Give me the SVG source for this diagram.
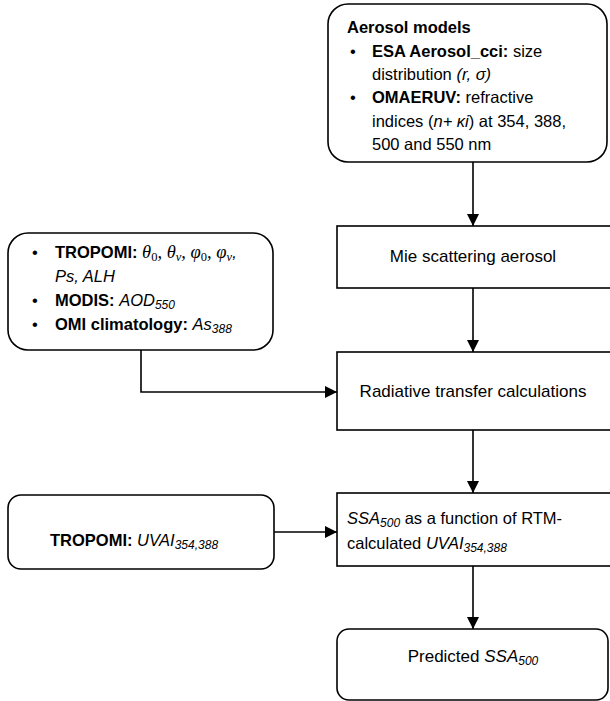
<svg xmlns="http://www.w3.org/2000/svg" width="610" height="701" viewBox="0 0 610 701">
<style>
.box{fill:#fff;stroke:#000;stroke-width:1.6}
.t{font-family:"Liberation Sans",Arial,sans-serif;font-size:16.5px;fill:#000}
.l{font-size:17px}
.b{font-weight:bold}
.i{font-style:italic}
.m{font-family:"Liberation Serif","Times New Roman",serif;font-style:italic;font-size:18.5px}
.s{font-size:12px}
.ms{font-family:"Liberation Serif","Times New Roman",serif;font-size:12.5px}
.c{stroke:#000;stroke-width:1.6;fill:none}
</style>
<defs>
<marker id="ah" markerUnits="userSpaceOnUse" markerWidth="12" markerHeight="12" refX="12" refY="6" orient="auto">
<path d="M0,0 L12,6 L0,12 z" fill="#000"/>
</marker>
</defs>
<g id="connectors">
<line class="c" x1="473" y1="162" x2="473" y2="226" marker-end="url(#ah)"/>
<line class="c" x1="473" y1="288" x2="473" y2="352" marker-end="url(#ah)"/>
<line class="c" x1="473" y1="430" x2="473" y2="493" marker-end="url(#ah)"/>
<line class="c" x1="473" y1="566" x2="473" y2="629" marker-end="url(#ah)"/>
<polyline class="c" points="141,350 141,392 337,392" marker-end="url(#ah)"/>
<line class="c" x1="274" y1="532" x2="337" y2="532" marker-end="url(#ah)"/>
</g>
<g id="aerosol-models">
<rect class="box" x="328" y="4" width="279" height="158" rx="20"/>
<text class="t b" x="347" y="33">Aerosol models</text>
<text class="t" x="350" y="57">•</text>
<text class="t" x="372" y="57"><tspan class="b">ESA Aerosol_cci:</tspan> size</text>
<text class="t" x="372" y="80">distribution <tspan class="i">(r, σ)</tspan></text>
<text class="t" x="350" y="103">•</text>
<text class="t" x="372" y="103"><tspan class="b">OMAERUV:</tspan> refractive</text>
<text class="t" x="372" y="127">indices (<tspan class="i">n+ κi</tspan>) at 354, 388,</text>
<text class="t" x="372" y="150">500 and 550 nm</text>
</g>
<g id="mie">
<rect class="box" x="337" y="226" width="280" height="62"/>
<text class="t l" x="473" y="262" text-anchor="middle">Mie scattering aerosol</text>
</g>
<g id="inputs">
<rect class="box" x="8" y="233" width="265" height="117" rx="20"/>
<text class="t" x="32" y="258">•</text>
<text class="t" x="55" y="258"><tspan class="b">TROPOMI: </tspan><tspan class="m">θ</tspan><tspan class="ms" dy="3">0</tspan><tspan dy="-3" class="m">, θ</tspan><tspan class="ms i" dy="3">v</tspan><tspan dy="-3" class="m">, φ</tspan><tspan class="ms" dy="3">0</tspan><tspan dy="-3" class="m">, φ</tspan><tspan class="ms i" dy="3">v</tspan><tspan dy="-3" class="i">,</tspan></text>
<text class="t i" x="55" y="282">Ps, ALH</text>
<text class="t" x="32" y="306">•</text>
<text class="t" x="55" y="306"><tspan class="b">MODIS: </tspan><tspan class="i">AOD</tspan><tspan class="i s" dy="3">550</tspan></text>
<text class="t" x="32" y="330">•</text>
<text class="t" x="55" y="330"><tspan class="b">OMI climatology: </tspan><tspan class="i">As</tspan><tspan class="i s" dy="3">388</tspan></text>
</g>
<g id="rtm">
<rect class="box" x="337" y="352" width="280" height="78"/>
<text class="t l" x="473" y="397" text-anchor="middle">Radiative transfer calculations</text>
</g>
<g id="uvai-input">
<rect class="box" x="8" y="495" width="266" height="74" rx="13"/>
<text class="t" x="50" y="546"><tspan class="b">TROPOMI: </tspan><tspan class="i">UVAI</tspan><tspan class="i s" dy="3">354,388</tspan></text>
</g>
<g id="ssa-function">
<rect class="box" x="337" y="493" width="280" height="73"/>
<text class="t" x="347" y="524"><tspan class="i">SSA</tspan><tspan class="i s" dy="3">500</tspan><tspan dy="-3"> as a function of RTM-</tspan></text>
<text class="t" x="347" y="549">calculated <tspan class="i">UVAI</tspan><tspan class="i s" dy="3">354,388</tspan></text>
</g>
<g id="predicted">
<rect class="box" x="337" y="629" width="271" height="71" rx="12"/>
<text class="t l" x="473" y="662" text-anchor="middle">Predicted <tspan class="i">SSA</tspan><tspan class="i s" dy="3">500</tspan></text>
</g>
</svg>
